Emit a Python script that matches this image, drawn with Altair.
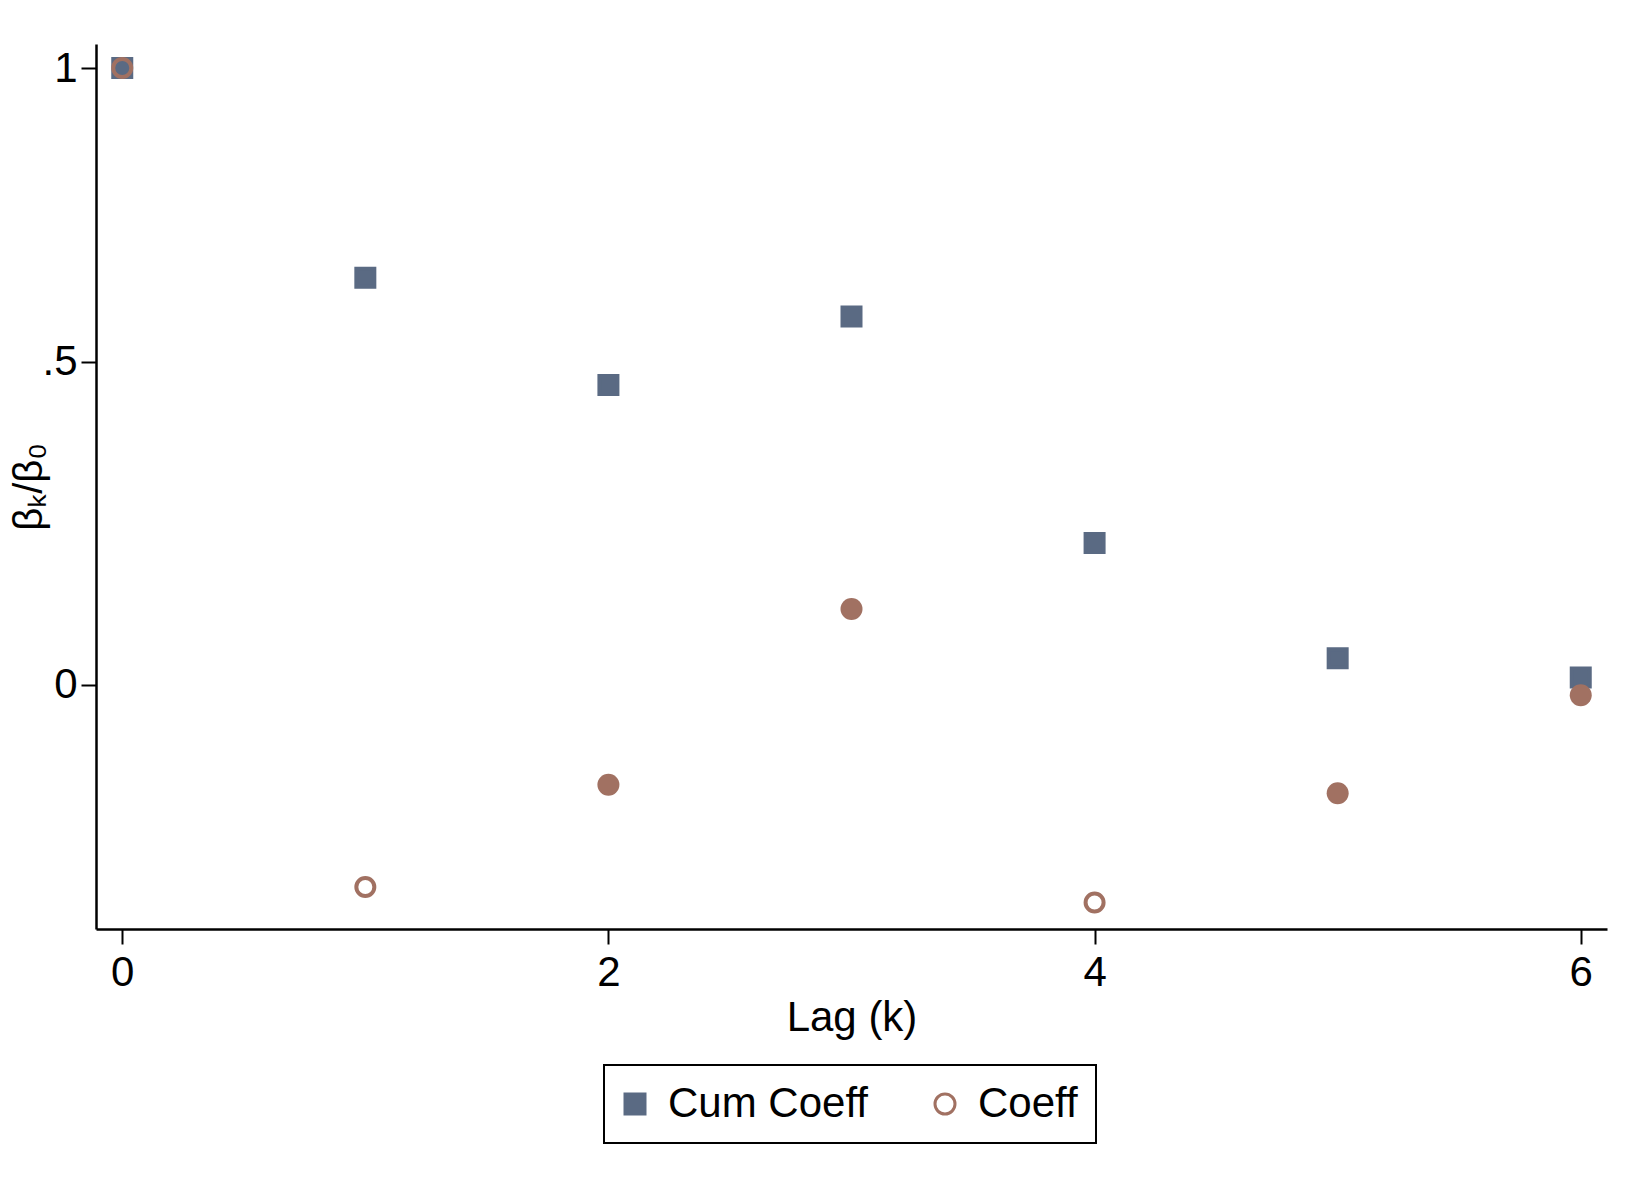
import altair as alt
import pandas as pd

lags = [0, 1, 2, 3, 4, 5, 6]
cum_coeff = [1.0, 0.660, 0.486, 0.597, 0.230, 0.043, 0.012]
coeff = [1.0, -0.328, -0.162, 0.123, -0.353, -0.176, -0.017]
coeff_filled = [False, False, True, True, False, True, True]

# y tick positions as drawn in the reference and their labels
y_tick_values = [0, 0.524, 1]
y_tick_labels = ["0", ".5", "1"]

series_names = ["Cum Coeff", "Coeff"]
cum_color = "#5a6a83"
coef_color = "#a17162"
FONT = "Liberation Sans"

rows = []
for k, v in zip(lags, cum_coeff):
    rows.append({"k": k, "value": v, "series": "Cum Coeff", "solid": False})
for k, v, f in zip(lags, coeff, coeff_filled):
    rows.append({"k": k, "value": v, "series": "Coeff", "solid": f})
df = pd.DataFrame(rows)

label_expr = " : ".join(
    f"datum.value == {v} ? '{l}'" for v, l in zip(y_tick_values, y_tick_labels)
) + " : ''"

x = alt.X("k:Q", title="Lag (k)",
          scale=alt.Scale(domain=[-0.108, 6.108], nice=False, zero=False),
          axis=alt.Axis(values=[0, 2, 4, 6], format="d", titlePadding=4, labelPadding=8))
y = alt.Y("value:Q", title="βₖ/β₀",
          scale=alt.Scale(domain=[-0.396, 1.039], nice=False, zero=False),
          axis=alt.Axis(values=y_tick_values, labelExpr=label_expr,
                        titlePadding=-8, labelPadding=4, titleFontSize=40))

base = alt.Chart(df)

layer_a = base.transform_filter("!datum.solid").mark_point(
    size=324, strokeWidth=4, opacity=1
).encode(
    x=x, y=y,
    shape=alt.Shape("series:N", scale=alt.Scale(domain=series_names, range=["square", "circle"]),
                    legend=alt.Legend(title=None, orient="none", direction="horizontal",
                                      legendX=508, legendY=1021)),
    fill=alt.Fill("series:N", scale=alt.Scale(domain=series_names, range=[cum_color, "transparent"])),
    stroke=alt.Stroke("series:N", scale=alt.Scale(domain=series_names, range=[cum_color, coef_color])),
)

layer_b = base.transform_filter("datum.solid").mark_circle(
    size=484, opacity=1, color=coef_color
).encode(x=x, y=y)

chart = alt.layer(layer_a, layer_b).properties(
    width=1511, height=885,
    autosize=alt.AutoSizeParams(type="none"),
    padding={"left": 88, "top": 36, "right": 35, "bottom": 260},
).configure_view(stroke=None).configure_axis(
    domainColor="black", domainWidth=2.5, tickColor="black", tickWidth=2, tickSize=15,
    labelFont=FONT, labelFontSize=42, labelColor="black",
    titleFont=FONT, titleFontSize=42, titleFontWeight="normal", titleColor="black",
    grid=False,
).configure_legend(
    labelFont=FONT, labelFontSize=42, labelColor="black", labelLimit=0,
    strokeColor="black", strokeWidth=2, padding=18, fillColor="white",
    symbolSize=400, symbolStrokeWidth=3, symbolOpacity=1, symbolOffset=-8,
    labelOffset=12, columnPadding=61,
)

chart.save("out.html", embed_options={"renderer": "svg", "actions": False})
